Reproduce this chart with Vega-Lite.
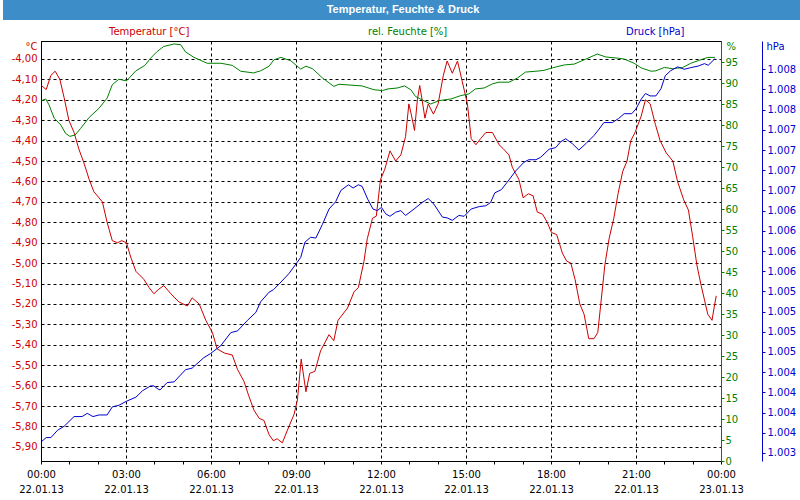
{
  "$schema": "https://vega.github.io/schema/vega-lite/v6.json",
  "padding": 0,
  "spacing": 18,
  "background": "white",
  "config": {
    "font": "DejaVu Sans",
    "axis": {"labelFont": "DejaVu Sans", "labelFontSize": 10, "titleFont": "DejaVu Sans", "titleFontSize": 10, "titleFontWeight": "normal"},
    "legend": {"labelFont": "DejaVu Sans", "labelFontSize": 10}
  },
  "datasets": {
    "bar": [{"title": "Temperatur, Feuchte & Druck"}],
    "temp": [
      {"t": "2013-01-22T00:01", "v": -4.13}, {"t": "2013-01-22T00:11", "v": -4.15}, {"t": "2013-01-22T00:21", "v": -4.08}, {"t": "2013-01-22T00:30", "v": -4.06},
      {"t": "2013-01-22T00:40", "v": -4.10}, {"t": "2013-01-22T00:49", "v": -4.19}, {"t": "2013-01-22T00:59", "v": -4.30}, {"t": "2013-01-22T01:10", "v": -4.36},
      {"t": "2013-01-22T01:20", "v": -4.44}, {"t": "2013-01-22T01:31", "v": -4.51}, {"t": "2013-01-22T01:42", "v": -4.59}, {"t": "2013-01-22T01:52", "v": -4.65},
      {"t": "2013-01-22T02:10", "v": -4.70}, {"t": "2013-01-22T02:20", "v": -4.80}, {"t": "2013-01-22T02:31", "v": -4.89}, {"t": "2013-01-22T02:42", "v": -4.90},
      {"t": "2013-01-22T02:51", "v": -4.89}, {"t": "2013-01-22T03:01", "v": -4.90}, {"t": "2013-01-22T03:10", "v": -4.97}, {"t": "2013-01-22T03:21", "v": -5.04},
      {"t": "2013-01-22T03:38", "v": -5.08}, {"t": "2013-01-22T03:49", "v": -5.12}, {"t": "2013-01-22T03:59", "v": -5.15}, {"t": "2013-01-22T04:08", "v": -5.13},
      {"t": "2013-01-22T04:20", "v": -5.11}, {"t": "2013-01-22T04:35", "v": -5.15}, {"t": "2013-01-22T04:52", "v": -5.19}, {"t": "2013-01-22T05:10", "v": -5.21},
      {"t": "2013-01-22T05:20", "v": -5.17}, {"t": "2013-01-22T05:35", "v": -5.20}, {"t": "2013-01-22T05:49", "v": -5.28}, {"t": "2013-01-22T06:03", "v": -5.34},
      {"t": "2013-01-22T06:13", "v": -5.42}, {"t": "2013-01-22T06:28", "v": -5.44}, {"t": "2013-01-22T06:45", "v": -5.45}, {"t": "2013-01-22T06:56", "v": -5.52},
      {"t": "2013-01-22T07:10", "v": -5.58}, {"t": "2013-01-22T07:20", "v": -5.65}, {"t": "2013-01-22T07:31", "v": -5.72}, {"t": "2013-01-22T07:42", "v": -5.76},
      {"t": "2013-01-22T07:52", "v": -5.77}, {"t": "2013-01-22T08:03", "v": -5.84}, {"t": "2013-01-22T08:12", "v": -5.87}, {"t": "2013-01-22T08:20", "v": -5.86},
      {"t": "2013-01-22T08:31", "v": -5.88}, {"t": "2013-01-22T08:45", "v": -5.80}, {"t": "2013-01-22T08:56", "v": -5.74}, {"t": "2013-01-22T09:03", "v": -5.67},
      {"t": "2013-01-22T09:11", "v": -5.47}, {"t": "2013-01-22T09:21", "v": -5.63}, {"t": "2013-01-22T09:29", "v": -5.54}, {"t": "2013-01-22T09:40", "v": -5.53},
      {"t": "2013-01-22T09:52", "v": -5.43}, {"t": "2013-01-22T10:10", "v": -5.35}, {"t": "2013-01-22T10:20", "v": -5.38}, {"t": "2013-01-22T10:29", "v": -5.28},
      {"t": "2013-01-22T10:49", "v": -5.22}, {"t": "2013-01-22T11:03", "v": -5.14}, {"t": "2013-01-22T11:12", "v": -5.12}, {"t": "2013-01-22T11:24", "v": -4.99},
      {"t": "2013-01-22T11:31", "v": -4.88}, {"t": "2013-01-22T11:42", "v": -4.78}, {"t": "2013-01-22T11:50", "v": -4.77}, {"t": "2013-01-22T11:59", "v": -4.59},
      {"t": "2013-01-22T12:08", "v": -4.54}, {"t": "2013-01-22T12:19", "v": -4.45}, {"t": "2013-01-22T12:31", "v": -4.50}, {"t": "2013-01-22T12:42", "v": -4.47},
      {"t": "2013-01-22T12:52", "v": -4.38}, {"t": "2013-01-22T12:59", "v": -4.22}, {"t": "2013-01-22T13:04", "v": -4.27}, {"t": "2013-01-22T13:11", "v": -4.35},
      {"t": "2013-01-22T13:17", "v": -4.20}, {"t": "2013-01-22T13:22", "v": -4.13}, {"t": "2013-01-22T13:27", "v": -4.20}, {"t": "2013-01-22T13:33", "v": -4.29},
      {"t": "2013-01-22T13:40", "v": -4.22}, {"t": "2013-01-22T13:51", "v": -4.27}, {"t": "2013-01-22T14:01", "v": -4.22}, {"t": "2013-01-22T14:12", "v": -4.08},
      {"t": "2013-01-22T14:20", "v": -4.01}, {"t": "2013-01-22T14:31", "v": -4.07}, {"t": "2013-01-22T14:42", "v": -4.01}, {"t": "2013-01-22T14:52", "v": -4.11},
      {"t": "2013-01-22T15:03", "v": -4.22}, {"t": "2013-01-22T15:11", "v": -4.39}, {"t": "2013-01-22T15:21", "v": -4.42}, {"t": "2013-01-22T15:31", "v": -4.39},
      {"t": "2013-01-22T15:42", "v": -4.36}, {"t": "2013-01-22T15:56", "v": -4.36}, {"t": "2013-01-22T16:10", "v": -4.42}, {"t": "2013-01-22T16:19", "v": -4.44},
      {"t": "2013-01-22T16:31", "v": -4.47}, {"t": "2013-01-22T16:38", "v": -4.53}, {"t": "2013-01-22T16:52", "v": -4.59}, {"t": "2013-01-22T17:01", "v": -4.68},
      {"t": "2013-01-22T17:12", "v": -4.66}, {"t": "2013-01-22T17:22", "v": -4.67}, {"t": "2013-01-22T17:31", "v": -4.75}, {"t": "2013-01-22T17:42", "v": -4.76},
      {"t": "2013-01-22T17:52", "v": -4.80}, {"t": "2013-01-22T18:01", "v": -4.85}, {"t": "2013-01-22T18:12", "v": -4.86}, {"t": "2013-01-22T18:24", "v": -4.95},
      {"t": "2013-01-22T18:33", "v": -4.99}, {"t": "2013-01-22T18:42", "v": -5.00}, {"t": "2013-01-22T18:51", "v": -5.08}, {"t": "2013-01-22T19:01", "v": -5.20},
      {"t": "2013-01-22T19:10", "v": -5.25}, {"t": "2013-01-22T19:20", "v": -5.37}, {"t": "2013-01-22T19:31", "v": -5.37}, {"t": "2013-01-22T19:39", "v": -5.34},
      {"t": "2013-01-22T19:45", "v": -5.21}, {"t": "2013-01-22T19:54", "v": -5.01}, {"t": "2013-01-22T20:03", "v": -4.88}, {"t": "2013-01-22T20:13", "v": -4.78},
      {"t": "2013-01-22T20:22", "v": -4.66}, {"t": "2013-01-22T20:32", "v": -4.55}, {"t": "2013-01-22T20:41", "v": -4.50}, {"t": "2013-01-22T20:49", "v": -4.40},
      {"t": "2013-01-22T20:58", "v": -4.36}, {"t": "2013-01-22T21:11", "v": -4.28}, {"t": "2013-01-22T21:20", "v": -4.20}, {"t": "2013-01-22T21:30", "v": -4.22},
      {"t": "2013-01-22T21:41", "v": -4.32}, {"t": "2013-01-22T21:51", "v": -4.40}, {"t": "2013-01-22T22:04", "v": -4.46}, {"t": "2013-01-22T22:18", "v": -4.50},
      {"t": "2013-01-22T22:28", "v": -4.60}, {"t": "2013-01-22T22:41", "v": -4.69}, {"t": "2013-01-22T22:51", "v": -4.74}, {"t": "2013-01-22T23:00", "v": -4.87},
      {"t": "2013-01-22T23:09", "v": -5.01}, {"t": "2013-01-22T23:18", "v": -5.11}, {"t": "2013-01-22T23:25", "v": -5.18}, {"t": "2013-01-22T23:32", "v": -5.25},
      {"t": "2013-01-22T23:41", "v": -5.28}, {"t": "2013-01-22T23:46", "v": -5.21}, {"t": "2013-01-22T23:50", "v": -5.16}
    ],
    "hum": [
      {"t": "2013-01-22T00:01", "v": 85.8}, {"t": "2013-01-22T00:10", "v": 86.2}, {"t": "2013-01-22T00:17", "v": 84.8}, {"t": "2013-01-22T00:28", "v": 81.6},
      {"t": "2013-01-22T00:42", "v": 80.0}, {"t": "2013-01-22T00:52", "v": 78.0}, {"t": "2013-01-22T01:01", "v": 77.3}, {"t": "2013-01-22T01:12", "v": 77.6},
      {"t": "2013-01-22T01:24", "v": 79.2}, {"t": "2013-01-22T01:42", "v": 81.8}, {"t": "2013-01-22T02:03", "v": 84.0}, {"t": "2013-01-22T02:20", "v": 86.4},
      {"t": "2013-01-22T02:31", "v": 89.6}, {"t": "2013-01-22T02:45", "v": 90.9}, {"t": "2013-01-22T03:01", "v": 90.5}, {"t": "2013-01-22T03:21", "v": 92.9},
      {"t": "2013-01-22T03:40", "v": 94.2}, {"t": "2013-01-22T03:52", "v": 95.9}, {"t": "2013-01-22T04:06", "v": 97.5}, {"t": "2013-01-22T04:20", "v": 98.7},
      {"t": "2013-01-22T04:42", "v": 99.3}, {"t": "2013-01-22T04:56", "v": 99.1}, {"t": "2013-01-22T05:06", "v": 97.4}, {"t": "2013-01-22T05:24", "v": 96.1},
      {"t": "2013-01-22T05:52", "v": 94.7}, {"t": "2013-01-22T06:21", "v": 94.7}, {"t": "2013-01-22T06:45", "v": 94.2}, {"t": "2013-01-22T07:03", "v": 92.8},
      {"t": "2013-01-22T07:30", "v": 92.4}, {"t": "2013-01-22T07:45", "v": 92.9}, {"t": "2013-01-22T08:03", "v": 94.0}, {"t": "2013-01-22T08:13", "v": 95.5},
      {"t": "2013-01-22T08:28", "v": 96.1}, {"t": "2013-01-22T08:49", "v": 95.3}, {"t": "2013-01-22T09:10", "v": 93.3}, {"t": "2013-01-22T09:21", "v": 94.0},
      {"t": "2013-01-22T09:35", "v": 93.4}, {"t": "2013-01-22T09:56", "v": 91.2}, {"t": "2013-01-22T10:20", "v": 89.2}, {"t": "2013-01-22T10:31", "v": 89.7},
      {"t": "2013-01-22T11:20", "v": 89.3}, {"t": "2013-01-22T11:45", "v": 88.4}, {"t": "2013-01-22T12:03", "v": 88.2}, {"t": "2013-01-22T12:15", "v": 88.6},
      {"t": "2013-01-22T12:34", "v": 88.8}, {"t": "2013-01-22T12:50", "v": 89.3}, {"t": "2013-01-22T13:03", "v": 88.4}, {"t": "2013-01-22T13:13", "v": 86.8},
      {"t": "2013-01-22T13:27", "v": 86.0}, {"t": "2013-01-22T13:45", "v": 85.0}, {"t": "2013-01-22T14:03", "v": 85.8}, {"t": "2013-01-22T14:28", "v": 86.2},
      {"t": "2013-01-22T14:49", "v": 87.0}, {"t": "2013-01-22T15:06", "v": 87.4}, {"t": "2013-01-22T15:20", "v": 88.6}, {"t": "2013-01-22T15:38", "v": 88.8},
      {"t": "2013-01-22T15:56", "v": 89.8}, {"t": "2013-01-22T16:10", "v": 90.2}, {"t": "2013-01-22T16:31", "v": 90.2}, {"t": "2013-01-22T16:49", "v": 91.2},
      {"t": "2013-01-22T17:06", "v": 92.6}, {"t": "2013-01-22T17:28", "v": 92.8}, {"t": "2013-01-22T17:45", "v": 93.0}, {"t": "2013-01-22T18:03", "v": 93.6},
      {"t": "2013-01-22T18:28", "v": 94.3}, {"t": "2013-01-22T18:49", "v": 94.5}, {"t": "2013-01-22T19:14", "v": 95.7}, {"t": "2013-01-22T19:38", "v": 96.9},
      {"t": "2013-01-22T19:56", "v": 96.2}, {"t": "2013-01-22T20:23", "v": 95.9}, {"t": "2013-01-22T20:35", "v": 95.7}, {"t": "2013-01-22T20:56", "v": 94.7},
      {"t": "2013-01-22T21:11", "v": 93.6}, {"t": "2013-01-22T21:32", "v": 92.8}, {"t": "2013-01-22T21:42", "v": 92.9}, {"t": "2013-01-22T22:00", "v": 93.7},
      {"t": "2013-01-22T22:18", "v": 93.4}, {"t": "2013-01-22T22:39", "v": 93.7}, {"t": "2013-01-22T22:56", "v": 94.7}, {"t": "2013-01-22T23:14", "v": 95.4},
      {"t": "2013-01-22T23:32", "v": 96.1}, {"t": "2013-01-22T23:47", "v": 96.1}
    ],
    "pres": [
      {"t": "2013-01-22T00:01", "v": 1003.49}, {"t": "2013-01-22T00:11", "v": 1003.54}, {"t": "2013-01-22T00:21", "v": 1003.54}, {"t": "2013-01-22T00:35", "v": 1003.63},
      {"t": "2013-01-22T00:49", "v": 1003.68}, {"t": "2013-01-22T01:10", "v": 1003.80}, {"t": "2013-01-22T01:27", "v": 1003.80}, {"t": "2013-01-22T01:38", "v": 1003.84},
      {"t": "2013-01-22T01:50", "v": 1003.80}, {"t": "2013-01-22T02:03", "v": 1003.82}, {"t": "2013-01-22T02:20", "v": 1003.82}, {"t": "2013-01-22T02:31", "v": 1003.92},
      {"t": "2013-01-22T02:45", "v": 1003.94}, {"t": "2013-01-22T03:01", "v": 1003.99}, {"t": "2013-01-22T03:21", "v": 1004.04}, {"t": "2013-01-22T03:35", "v": 1004.12},
      {"t": "2013-01-22T03:52", "v": 1004.18}, {"t": "2013-01-22T03:59", "v": 1004.18}, {"t": "2013-01-22T04:08", "v": 1004.14}, {"t": "2013-01-22T04:12", "v": 1004.13},
      {"t": "2013-01-22T04:27", "v": 1004.22}, {"t": "2013-01-22T04:42", "v": 1004.23}, {"t": "2013-01-22T05:06", "v": 1004.38}, {"t": "2013-01-22T05:20", "v": 1004.40},
      {"t": "2013-01-22T05:45", "v": 1004.53}, {"t": "2013-01-22T05:59", "v": 1004.58}, {"t": "2013-01-22T06:21", "v": 1004.68}, {"t": "2013-01-22T06:42", "v": 1004.84},
      {"t": "2013-01-22T06:56", "v": 1004.86}, {"t": "2013-01-22T07:17", "v": 1004.99}, {"t": "2013-01-22T07:35", "v": 1005.09}, {"t": "2013-01-22T07:45", "v": 1005.22},
      {"t": "2013-01-22T08:03", "v": 1005.34}, {"t": "2013-01-22T08:12", "v": 1005.37}, {"t": "2013-01-22T08:24", "v": 1005.44}, {"t": "2013-01-22T08:45", "v": 1005.57},
      {"t": "2013-01-22T09:10", "v": 1005.77}, {"t": "2013-01-22T09:19", "v": 1005.96}, {"t": "2013-01-22T09:31", "v": 1006.02}, {"t": "2013-01-22T09:42", "v": 1006.01},
      {"t": "2013-01-22T09:56", "v": 1006.18}, {"t": "2013-01-22T10:10", "v": 1006.37}, {"t": "2013-01-22T10:24", "v": 1006.46}, {"t": "2013-01-22T10:35", "v": 1006.60},
      {"t": "2013-01-22T10:51", "v": 1006.67}, {"t": "2013-01-22T11:01", "v": 1006.63}, {"t": "2013-01-22T11:12", "v": 1006.67}, {"t": "2013-01-22T11:20", "v": 1006.65},
      {"t": "2013-01-22T11:32", "v": 1006.49}, {"t": "2013-01-22T11:43", "v": 1006.37}, {"t": "2013-01-22T11:52", "v": 1006.35}, {"t": "2013-01-22T12:01", "v": 1006.39},
      {"t": "2013-01-22T12:10", "v": 1006.31}, {"t": "2013-01-22T12:19", "v": 1006.28}, {"t": "2013-01-22T12:31", "v": 1006.33}, {"t": "2013-01-22T12:42", "v": 1006.35},
      {"t": "2013-01-22T12:52", "v": 1006.29}, {"t": "2013-01-22T13:10", "v": 1006.37}, {"t": "2013-01-22T13:27", "v": 1006.45}, {"t": "2013-01-22T13:40", "v": 1006.50},
      {"t": "2013-01-22T13:52", "v": 1006.43}, {"t": "2013-01-22T14:10", "v": 1006.27}, {"t": "2013-01-22T14:20", "v": 1006.26}, {"t": "2013-01-22T14:31", "v": 1006.23},
      {"t": "2013-01-22T14:45", "v": 1006.29}, {"t": "2013-01-22T14:56", "v": 1006.28}, {"t": "2013-01-22T15:11", "v": 1006.37}, {"t": "2013-01-22T15:28", "v": 1006.40},
      {"t": "2013-01-22T15:42", "v": 1006.41}, {"t": "2013-01-22T15:52", "v": 1006.45}, {"t": "2013-01-22T16:01", "v": 1006.57}, {"t": "2013-01-22T16:15", "v": 1006.61},
      {"t": "2013-01-22T16:27", "v": 1006.70}, {"t": "2013-01-22T16:45", "v": 1006.84}, {"t": "2013-01-22T17:03", "v": 1006.95}, {"t": "2013-01-22T17:13", "v": 1006.98},
      {"t": "2013-01-22T17:28", "v": 1006.98}, {"t": "2013-01-22T17:38", "v": 1007.01}, {"t": "2013-01-22T17:56", "v": 1007.11}, {"t": "2013-01-22T18:10", "v": 1007.13},
      {"t": "2013-01-22T18:20", "v": 1007.20}, {"t": "2013-01-22T18:31", "v": 1007.24}, {"t": "2013-01-22T18:45", "v": 1007.18}, {"t": "2013-01-22T18:59", "v": 1007.10},
      {"t": "2013-01-22T19:14", "v": 1007.18}, {"t": "2013-01-22T19:31", "v": 1007.28}, {"t": "2013-01-22T19:42", "v": 1007.36}, {"t": "2013-01-22T19:52", "v": 1007.44},
      {"t": "2013-01-22T20:10", "v": 1007.44}, {"t": "2013-01-22T20:23", "v": 1007.49}, {"t": "2013-01-22T20:35", "v": 1007.55}, {"t": "2013-01-22T20:51", "v": 1007.55},
      {"t": "2013-01-22T21:00", "v": 1007.61}, {"t": "2013-01-22T21:11", "v": 1007.73}, {"t": "2013-01-22T21:20", "v": 1007.80}, {"t": "2013-01-22T21:30", "v": 1007.77},
      {"t": "2013-01-22T21:42", "v": 1007.77}, {"t": "2013-01-22T21:53", "v": 1007.86}, {"t": "2013-01-22T22:02", "v": 1008.02}, {"t": "2013-01-22T22:13", "v": 1008.08},
      {"t": "2013-01-22T22:28", "v": 1008.13}, {"t": "2013-01-22T22:42", "v": 1008.10}, {"t": "2013-01-22T22:56", "v": 1008.12}, {"t": "2013-01-22T23:12", "v": 1008.14},
      {"t": "2013-01-22T23:25", "v": 1008.17}, {"t": "2013-01-22T23:33", "v": 1008.15}, {"t": "2013-01-22T23:47", "v": 1008.23}
    ]
  },
  "vconcat": [
    {
      "width": 800,
      "height": 20,
      "view": {"fill": "#3d8ec8", "stroke": null},
      "data": {"name": "bar"},
      "mark": {"type": "text", "color": "white", "font": "Liberation Sans", "fontSize": 11, "fontWeight": "bold", "baseline": "middle", "align": "center"},
      "encoding": {"text": {"field": "title"}}
    },
    {
      "spacing": 3,
      "hconcat": [
        {
          "width": 1,
          "height": 1,
          "view": {"stroke": null},
          "data": {"values": [{}]},
          "mark": {"type": "point", "opacity": 0},
          "encoding": {}
        },
        {
          "width": 680,
          "height": 420,
          "view": {"stroke": "black", "strokeWidth": 1},
          "resolve": {"scale": {"y": "independent"}},
          "layer": [
            {
              "data": {"name": "temp"},
              "mark": {"type": "line", "strokeWidth": 1, "clip": true},
              "encoding": {
                "x": {
                  "field": "t", "type": "temporal",
                  "scale": {"domain": [{"year": 2013, "month": 1, "date": 22, "hours": 0}, {"year": 2013, "month": 1, "date": 23, "hours": 0}]},
                  "axis": {
                    "title": null,
                    "tickCount": 40,
                    "values": [
                      {"year": 2013, "month": 1, "date": 22, "hours": 0}, {"year": 2013, "month": 1, "date": 22, "hours": 1}, {"year": 2013, "month": 1, "date": 22, "hours": 2},
                      {"year": 2013, "month": 1, "date": 22, "hours": 3}, {"year": 2013, "month": 1, "date": 22, "hours": 4}, {"year": 2013, "month": 1, "date": 22, "hours": 5},
                      {"year": 2013, "month": 1, "date": 22, "hours": 6}, {"year": 2013, "month": 1, "date": 22, "hours": 7}, {"year": 2013, "month": 1, "date": 22, "hours": 8},
                      {"year": 2013, "month": 1, "date": 22, "hours": 9}, {"year": 2013, "month": 1, "date": 22, "hours": 10}, {"year": 2013, "month": 1, "date": 22, "hours": 11},
                      {"year": 2013, "month": 1, "date": 22, "hours": 12}, {"year": 2013, "month": 1, "date": 22, "hours": 13}, {"year": 2013, "month": 1, "date": 22, "hours": 14},
                      {"year": 2013, "month": 1, "date": 22, "hours": 15}, {"year": 2013, "month": 1, "date": 22, "hours": 16}, {"year": 2013, "month": 1, "date": 22, "hours": 17},
                      {"year": 2013, "month": 1, "date": 22, "hours": 18}, {"year": 2013, "month": 1, "date": 22, "hours": 19}, {"year": 2013, "month": 1, "date": 22, "hours": 20},
                      {"year": 2013, "month": 1, "date": 22, "hours": 21}, {"year": 2013, "month": 1, "date": 22, "hours": 22}, {"year": 2013, "month": 1, "date": 22, "hours": 23},
                      {"year": 2013, "month": 1, "date": 23, "hours": 0}
                    ],
                    "labelExpr": "hours(datum.value) % 3 === 0 ? [timeFormat(datum.value, '%H:%M'), timeFormat(datum.value, '%d.%m.%y')] : ''",
                    "labelColor": "black", "labelLineHeight": 15, "labelPadding": 5, "labelFlush": false, "labelOverlap": false,
                    "domainColor": "black", "tickColor": "black", "tickSize": 3,
                    "grid": true, "gridColor": "black", "gridDash": [3, 3],
                    "gridOpacity": {"condition": {"test": "hours(datum.value) % 3 === 0", "value": 1}, "value": 0}
                  }
                },
                "y": {
                  "field": "v", "type": "quantitative",
                  "scale": {"domain": [-5.969, -3.912], "nice": false, "zero": false},
                  "axis": {
                    "orient": "left",
                    "values": [-5.9, -5.8, -5.7, -5.6, -5.5, -5.4, -5.3, -5.2, -5.1, -5.0, -4.9, -4.8, -4.7, -4.6, -4.5, -4.4, -4.3, -4.2, -4.1, -4.0],
                    "labelExpr": "'-' + replace(format(abs(datum.value), '.2f'), '.', ',')",
                    "labelColor": "#cc0000", "labelPadding": 4, "ticks": false,
                    "domainColor": "black",
                    "grid": true, "gridColor": "black", "gridDash": [3, 3],
                    "title": "°C", "titleColor": "#cc0000", "titleAngle": 0, "titleX": -4, "titleY": 0, "titleAlign": "right", "titleBaseline": "top"
                  }
                },
                "color": {
                  "datum": "Temperatur [°C]", "type": "nominal",
                  "scale": {"domain": ["Temperatur [°C]", "rel. Feuchte [%]", "Druck [hPa]"], "range": ["#cc0000", "#008000", "#0000cc"]},
                  "legend": {
                    "orient": "none", "legendX": 94, "legendY": 26, "direction": "horizontal", "title": null,
                    "symbolOpacity": 0, "labelOffset": 0, "padding": 0,
                    "columnPadding": 166,
                    "encode": {"labels": {"update": {"fill": {"signal": "datum.value === 'Temperatur [°C]' ? '#cc0000' : (datum.value === 'rel. Feuchte [%]' ? '#008000' : '#0000cc')"}}}}
                  }
                }
              }
            },
            {
              "data": {"name": "hum"},
              "mark": {"type": "line", "strokeWidth": 1, "clip": true},
              "encoding": {
                "x": {"field": "t", "type": "temporal"},
                "y": {
                  "field": "v", "type": "quantitative",
                  "scale": {"domain": [0, 100], "nice": false},
                  "axis": {
                    "orient": "right", "offset": 0,
                    "values": [0, 5, 10, 15, 20, 25, 30, 35, 40, 45, 50, 55, 60, 65, 70, 75, 80, 85, 90, 95],
                    "labelColor": "#008000", "domainColor": "#008000", "tickColor": "#008000", "tickSize": 3, "labelPadding": 1,
                    "grid": false,
                    "title": "%", "titleColor": "#008000", "titleAngle": 0, "titleX": 5, "titleY": 0, "titleAlign": "left", "titleBaseline": "top"
                  }
                },
                "color": {"datum": "rel. Feuchte [%]", "type": "nominal"}
              }
            },
            {
              "data": {"name": "pres"},
              "mark": {"type": "line", "strokeWidth": 1, "clip": true},
              "encoding": {
                "x": {"field": "t", "type": "temporal"},
                "y": {
                  "field": "v", "type": "quantitative",
                  "scale": {"domain": [1003.25, 1008.45], "nice": false, "zero": false},
                  "axis": {
                    "orient": "right", "offset": 41,
                    "values": [1003.35, 1003.6, 1003.85, 1004.1, 1004.35, 1004.6, 1004.85, 1005.1, 1005.35, 1005.6, 1005.85, 1006.1, 1006.35, 1006.6, 1006.85, 1007.1, 1007.35, 1007.6, 1007.85, 1008.1],
                    "labelExpr": "replace(format(round(datum.value), ','), ',', '.')",
                    "labelColor": "#0000cc", "domainColor": "#0000cc", "tickColor": "#0000cc", "tickSize": 3, "labelPadding": 2,
                    "grid": false,
                    "title": "hPa", "titleColor": "#0000cc", "titleAngle": 0, "titleX": 4, "titleY": 0, "titleAlign": "left", "titleBaseline": "top"
                  }
                },
                "color": {"datum": "Druck [hPa]", "type": "nominal"}
              }
            }
          ]
        }
      ]
    }
  ]
}
